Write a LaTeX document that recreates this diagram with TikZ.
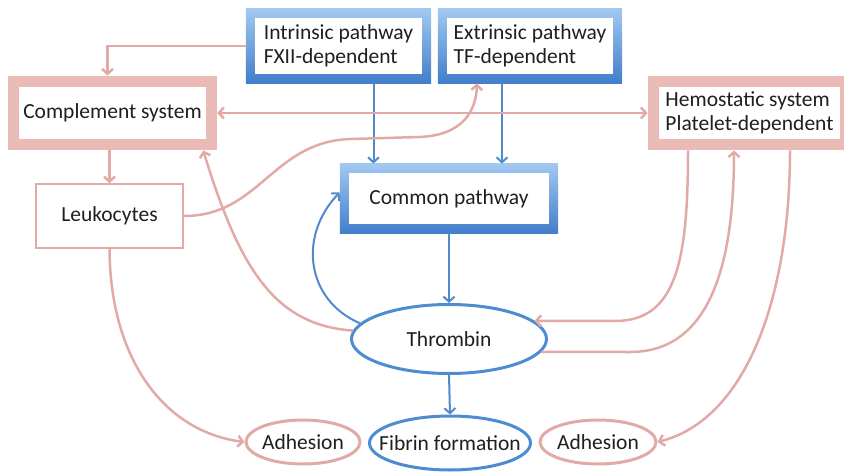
\documentclass[tikz,border=0pt]{standalone}
\usepackage{fontspec}
\setmainfont{Carlito}
\usetikzlibrary{arrows.meta,shapes.geometric,fit,backgrounds,calc}
\definecolor{linkpink}{RGB}{226,170,166}
\definecolor{framepink}{RGB}{234,186,183}
\definecolor{linkblue}{RGB}{80,138,204}
\definecolor{frametop}{RGB}{162,200,240}
\definecolor{framebot}{RGB}{66,126,202}
\definecolor{ringblue}{RGB}{78,140,210}

\begin{document}
\begin{tikzpicture}[x=1pt,y=-1pt,
  >={Straight Barb[length=5pt,width=11pt]},
  lbl/.style={font=\fontsize{21.5}{24}\selectfont, text=black!88},
  whitebox/.style={lbl, rectangle, fill=white, inner xsep=4pt, inner ysep=0pt, align=left},
  leukbox/.style={lbl, rectangle, fill=white, draw=linkpink, line width=1.5pt},
  bframe/.style={rectangle, inner sep=9pt, top color=frametop, bottom color=framebot},
  pframe/.style={rectangle, inner sep=11pt, fill=framepink},
  bluering/.style={lbl, ellipse, draw=ringblue, line width=3pt, fill=white, inner sep=0pt},
  pinkring/.style={lbl, ellipse, draw=linkpink, line width=3pt, fill=white, inner sep=0pt},
  pk/.style={draw=linkpink, line width=2.5pt, ->},
  bl/.style={draw=linkblue, line width=2pt, ->}]

\useasboundingbox (0,0) rectangle (844,476);

% labelled boxes
\node[whitebox, minimum width=167pt, minimum height=56pt] (intr) at (338.5,46) {Intrinsic pathway\\FXII-dependent};
\node[whitebox, minimum width=166pt, minimum height=56pt] (extr) at (530,46) {Extrinsic pathway\\TF-dependent};
\node[whitebox, minimum width=185pt, minimum height=52pt] (comp) at (112.5,113) {Complement system};
\node[whitebox, minimum width=181pt, minimum height=52pt] (hemo) at (749.5,113) {Hemostatic system\\Platelet-dependent};
\node[whitebox, minimum width=200pt, minimum height=51pt] (comm) at (449,198.5) {Common pathway};
\node[leukbox, minimum width=147pt, minimum height=64pt] (leuk) at (109.5,216) {Leukocytes};

% ellipses (sized by their minimum sizes, not by the text)
\node[bluering, minimum width=195pt, minimum height=69pt] (thr) at (449,339) {\makebox[0pt]{Thrombin}};
\node[bluering, minimum width=161pt, minimum height=54pt] (fib) at (450,443) {\makebox[0pt]{Fibrin formation}};
\node[pinkring, minimum width=114pt, minimum height=44pt] (adh1) at (303,442) {\makebox[0pt]{Adhesion}};
\node[pinkring, minimum width=116pt, minimum height=44pt] (adh2) at (598,442) {\makebox[0pt]{Adhesion}};

% thick frames behind the boxes
\begin{scope}[on background layer]
  \node[bframe, fit=(intr)] (intrF) {};
  \node[bframe, fit=(extr)] (extrF) {};
  \node[bframe, fit=(comm)] (commF) {};
  \node[pframe, fit=(comp)] (compF) {};
  \node[pframe, fit=(hemo)] (hemoF) {};
\end{scope}

% intrinsic pathway feeds the complement system
\draw[pk] (intrF.west) -| ([xshift=-5]compF.north);

% both pathways into the common pathway
\coordinate (i1) at ([xshift=35]intrF.south);
\draw[bl] (i1) -- (i1 |- commF.north);
\coordinate (e1) at ([xshift=-28]extrF.south);
\draw[bl] (e1) -- (e1 |- commF.north);

% complement <-> hemostatic
\draw[pk, <->] (compF.east) -- (hemoF.west);

% complement -> leukocytes
\draw[pk] (leuk.north |- compF.south) -- (leuk.north);

% leukocytes -> extrinsic pathway
\coordinate (e2) at ([xshift=-53]extrF.south);
\draw[pk] (leuk.east) .. controls (260,216) and (272,142) .. (350,139)
  -- (420,137) .. controls (462,135) and (476,112) .. (e2);

% common pathway -> thrombin -> fibrin
\draw[bl] (commF.south) -- (thr.north);
\draw[bl] (thr.south) -- (fib.north);

% thrombin feedback to the common pathway
\draw[bl] (thr.170) .. controls (306,300) and (298,236) .. ([yshift=6]commF.west);

% thrombin -> complement
\draw[pk] (thr.175) .. controls (275,325) and (240,270) .. ([xshift=-14]compF.south east);

% leukocytes -> adhesion
\draw[pk] (leuk.south) .. controls (110,360) and (165,432) .. (adh1.west);

% hemostatic system <-> thrombin
\coordinate (h1) at ([xshift=-61.5]hemoF.south);
\draw[pk] (h1) .. controls (688,262) and (676,321) .. (615,321) -- (thr.12);
\coordinate (h2) at ([xshift=-15.5]hemoF.south);
\draw[pk] (thr.-8) -- (630,352) .. controls (712,352) and (734,260) .. (h2);

% hemostatic system -> adhesion
\coordinate (h3) at ([xshift=40.5]hemoF.south);
\draw[pk] (h3) .. controls (790,300) and (745,420) .. (adh2.east);

\end{tikzpicture}
\end{document}
